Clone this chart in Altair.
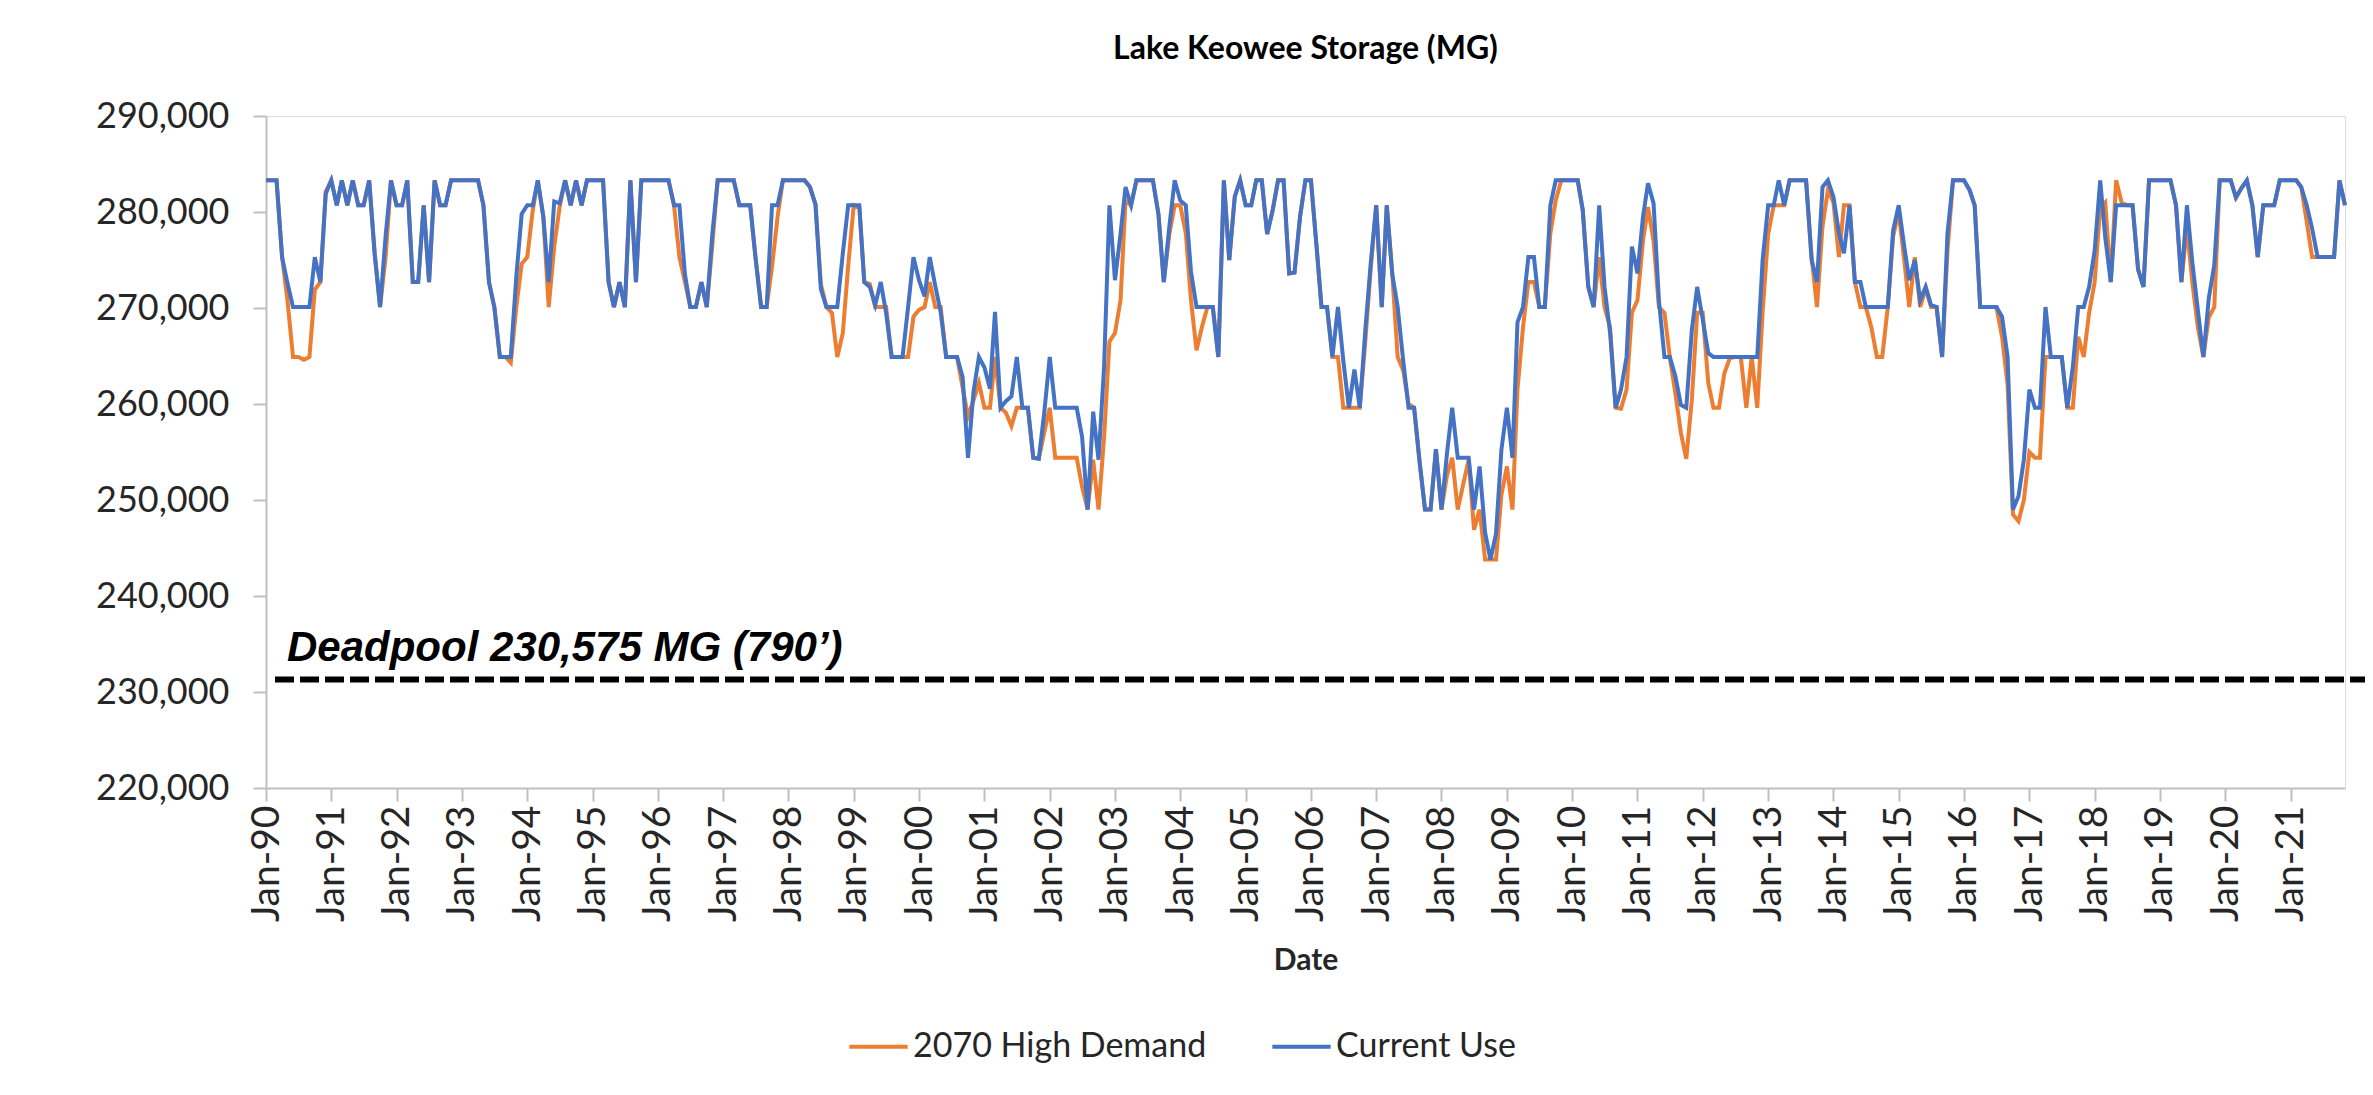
import altair as alt
import pandas as pd

# ---------------- data (MG), monthly Jan-1990 .. Nov-2021 ----------------
current_use = [
    # 1990
    283300, 283300, 283300, 275300, 272600, 270100, 270100, 270100, 270100, 275300, 272700, 281900,
    # 1991
    283300, 280700, 283300, 280700, 283300, 280700, 280700, 283300, 275600, 270100, 277500, 283300,
    # 1992
    280700, 280700, 283300, 272700, 272700, 280700, 272700, 283300, 280700, 280700, 283300, 283300,
    # 1993
    283300, 283300, 283300, 283300, 280700, 272700, 270100, 264900, 264900, 264900, 273300, 279800,
    # 1994
    280700, 280700, 283300, 279500, 272700, 281100, 280900, 283300, 280700, 283300, 280700, 283300,
    # 1995
    283300, 283300, 283300, 272700, 270100, 272700, 270100, 283300, 272700, 283300, 283300, 283300,
    # 1996
    283300, 283300, 283300, 280700, 280700, 273500, 270100, 270100, 272700, 270100, 277700, 283300,
    # 1997
    283300, 283300, 283300, 280700, 280700, 280700, 275200, 270100, 270100, 280700, 280700, 283300,
    # 1998
    283300, 283300, 283300, 283300, 282600, 280800, 272000, 270100, 270100, 270100, 275700, 280700,
    # 1999
    280700, 280700, 272700, 272200, 270300, 272700, 269500, 264900, 264900, 264900, 270100, 275300,
    # 2000
    272900, 271200, 275300, 272300, 269600, 264900, 264900, 264900, 262800, 254400, 261300, 264900,
    # 2001
    263800, 261600, 269600, 259600, 260300, 260800, 264900, 259600, 259600, 254400, 254300, 259000,
    # 2002
    264900, 259600, 259600, 259600, 259600, 259600, 256600, 249000, 259200, 254200, 263800, 280700,
    # 2003
    272900, 277700, 282600, 280700, 283300, 283300, 283300, 283300, 279800, 272700, 278500, 283300,
    # 2004
    281200, 280700, 273800, 270100, 270100, 270100, 270100, 264900, 283300, 275000, 281600, 283300,
    # 2005
    280700, 280700, 283300, 283300, 277700, 280200, 283300, 283300, 273600, 273700, 279500, 283300,
    # 2006
    283300, 276500, 270100, 270100, 264900, 270100, 264500, 259600, 263600, 259600, 267700, 274600,
    # 2007
    280700, 270100, 280700, 273500, 270100, 264500, 259600, 259600, 253900, 249000, 249000, 255300,
    # 2008
    249000, 254900, 259600, 254400, 254400, 254400, 249000, 253500, 246600, 243800, 246500, 255200,
    # 2009
    259600, 254400, 268500, 270100, 275300, 275300, 270100, 270100, 280700, 283300, 283300, 283300,
    # 2010
    283300, 283300, 280200, 272200, 270100, 280700, 272200, 267400, 259600, 261500, 264900, 276400,
    # 2011
    273600, 279500, 283000, 280900, 270800, 264900, 264900, 262900, 259900, 259600, 267700, 272200,
    # 2012
    268800, 265300, 264900, 264900, 264900, 264900, 264900, 264900, 264900, 264900, 264900, 275000,
    # 2013
    280700, 280700, 283300, 280700, 283300, 283300, 283300, 283300, 275000, 272700, 282600, 283300,
    # 2014
    281600, 277800, 275700, 280700, 272700, 272700, 270100, 270100, 270100, 270100, 270100, 278100,
    # 2015
    280700, 276400, 272900, 275000, 270800, 272200, 270300, 270100, 264900, 277800, 283300, 283300,
    # 2016
    283300, 282300, 280700, 270100, 270100, 270100, 270100, 269100, 264900, 249000, 250400, 254200,
    # 2017
    261500, 259600, 259600, 270100, 264900, 264900, 264900, 259600, 263900, 270100, 270100, 272200,
    # 2018
    276000, 283300, 277400, 272700, 280700, 280700, 280700, 280700, 274000, 272200, 283300, 283300,
    # 2019
    283300, 283300, 283300, 280700, 272700, 280700, 274800, 269800, 264900, 271000, 274500, 283300,
    # 2020
    283300, 283300, 281500, 282500, 283300, 280700, 275300, 280700, 280700, 280700, 283300, 283300,
    # 2021
    283300, 283300, 282600, 280700, 278300, 275300, 275300, 275300, 275300, 283300, 280700,
]

high_demand_2070 = [
    # 1990
    283300, 283300, 283300, 275300, 270800, 264900, 264900, 264600, 264900, 271900, 272700, 282100,
    # 1991
    283300, 280700, 283300, 280700, 283300, 280700, 280700, 283300, 275600, 270100, 275300, 283300,
    # 1992
    280700, 280700, 283300, 272700, 272700, 280700, 272700, 283300, 280700, 280700, 283300, 283300,
    # 1993
    283300, 283300, 283300, 283300, 280700, 272700, 270100, 264900, 264900, 264300, 270100, 274600,
    # 1994
    275300, 280200, 283300, 279500, 270100, 276400, 280500, 283300, 280700, 283300, 280700, 283300,
    # 1995
    283300, 283300, 283300, 272700, 270100, 272700, 270100, 283300, 272700, 283300, 283300, 283300,
    # 1996
    283300, 283300, 283300, 280700, 275300, 272700, 270100, 270100, 272700, 270100, 276500, 283300,
    # 1997
    283300, 283300, 283300, 280700, 280700, 280700, 275200, 270100, 270100, 274300, 279500, 283300,
    # 1998
    283300, 283300, 283300, 283300, 282600, 280800, 272500, 270100, 269500, 264900, 267400, 274400,
    # 1999
    280700, 280500, 272700, 272500, 270100, 270100, 270100, 264900, 264900, 264900, 264900, 269100,
    # 2000
    269800, 270100, 272700, 270100, 270100, 264900, 264900, 264900, 261700, 258700, 260400, 262200,
    # 2001
    259600, 259600, 264900, 259600, 259100, 257700, 259600, 259600, 259600, 254400, 254300, 257000,
    # 2002
    259600, 254400, 254400, 254400, 254400, 254400, 251400, 249000, 254200, 249000, 256500, 266500,
    # 2003
    267400, 270800, 281200, 280700, 283300, 283300, 283300, 283300, 279800, 272700, 277700, 280700,
    # 2004
    280700, 277800, 270800, 265600, 268000, 270100, 270100, 264900, 283300, 275000, 281600, 283300,
    # 2005
    280700, 280700, 283300, 283300, 277700, 280200, 283300, 283300, 273600, 273700, 279500, 283300,
    # 2006
    283300, 276500, 270100, 270100, 264900, 264900, 259600, 259600, 259600, 259600, 266500, 274000,
    # 2007
    280700, 270100, 280700, 273500, 264900, 263500, 260000, 259600, 253900, 249000, 249000, 255300,
    # 2008
    249000, 252600, 254400, 249000, 251600, 254200, 246900, 249000, 243800, 243800, 243800, 250500,
    # 2009
    253500, 249000, 261500, 268000, 272700, 272700, 270100, 270100, 277800, 281200, 283300, 283300,
    # 2010
    283300, 283300, 280200, 272200, 270100, 275300, 270100, 268000, 259600, 259500, 261500, 269500,
    # 2011
    270800, 277000, 280500, 277000, 270100, 269500, 264900, 261100, 257000, 254300, 260400, 269500,
    # 2012
    269500, 262200, 259600, 259600, 263200, 264800, 264900, 264900, 259600, 264900, 259600, 269600,
    # 2013
    277700, 280700, 280700, 280700, 283300, 283300, 283300, 283300, 275300, 270100, 278500, 282300,
    # 2014
    281000, 275300, 280700, 280700, 272700, 270100, 270100, 268000, 264900, 264900, 270100, 277500,
    # 2015
    280000, 275000, 270100, 275300, 270100, 272000, 270100, 270100, 264900, 276000, 283300, 283300,
    # 2016
    283300, 282300, 280700, 270100, 270100, 270100, 270100, 267000, 262000, 248500, 247800, 250000,
    # 2017
    255000, 254400, 254400, 264900, 264900, 264900, 264900, 259600, 259600, 267000, 264900, 269500,
    # 2018
    272700, 280500, 281000, 272700, 283300, 281000, 280700, 280700, 274000, 272200, 283300, 283300,
    # 2019
    283300, 283300, 283300, 280700, 272700, 278400, 272700, 268000, 264900, 269000, 270100, 283300,
    # 2020
    283300, 283300, 281500, 282500, 283300, 280700, 275300, 280700, 280700, 280700, 283300, 283300,
    # 2021
    283300, 283300, 282600, 279000, 275300, 275300, 275300, 275300, 275300, 283300, 280700,
]

series_names = ["2070 High Demand", "Current Use"]
series_colors = ["#ED7D31", "#4472C4"]
tick_years = list(range(1990, 2022))
y_ticks = [220000, 230000, 240000, 250000, 260000, 270000, 280000, 290000]
deadpool_value = [231300]
deadpool_label = "Deadpool 230,575 MG (790\u2019)"
chart_title = "Lake Keowee Storage (MG)"

# ---------------- tables ----------------
dates = [f"{1990 + i // 12}/{i % 12 + 1:02d}/01" for i in range(len(current_use))]
df_high = pd.DataFrame({"date": dates, "value": high_demand_2070, "series": series_names[0]})
df_cur = pd.DataFrame({"date": dates, "value": current_use, "series": series_names[1]})
df_dead = pd.DataFrame({"y": deadpool_value})

W, H = 2079, 672
FONT = "Lato"

x_enc = alt.X(
    "date:T",
    scale=alt.Scale(domain=[alt.DateTime(year=1990, month=1, date=1),
                            alt.DateTime(year=2021, month=11, date=1)]),
    axis=alt.Axis(
        values=[alt.DateTime(year=y, month=1, date=1) for y in tick_years],
        format="%b-%y",
        labelAngle=270,
        labelFontSize=39,
        labelFont=FONT,
        labelColor="#262626",
        labelPadding=4,
        tickSize=13,
        tickWidth=2,
        tickColor="#bfbfbf",
        domainColor="#bfbfbf",
        domainWidth=2,
        grid=False,
        title="Date",
        titleFont=FONT,
        titleFontSize=30,
        titleFontWeight="bold",
        titleColor="#262626",
        titlePadding=24,
        labelOverlap=False,
    ),
)
y_enc = alt.Y(
    "value:Q",
    scale=alt.Scale(domain=[220000, 290000], nice=False, zero=False),
    axis=alt.Axis(
        values=y_ticks,
        format=",d",
        labelFontSize=36,
        labelFont=FONT,
        labelColor="#262626",
        labelPadding=24,
        tickSize=13,
        tickWidth=2,
        tickColor="#bfbfbf",
        domainColor="#bfbfbf",
        domainWidth=2,
        grid=False,
        title=None,
    ),
)
color_enc = alt.Color(
    "series:N",
    scale=alt.Scale(domain=series_names, range=series_colors),
    legend=alt.Legend(
        title=None,
        orient="none",
        legendX=581,
        legendY=899,
        direction="horizontal",
        symbolType="stroke",
        symbolSize=3400,
        symbolStrokeWidth=4,
        labelFont=FONT,
        labelFontSize=34,
        labelColor="#262626",
        labelOffset=3,
        labelLimit=800,
        columnPadding=57,
    ),
)

line_high = alt.Chart(df_high).mark_line(strokeWidth=4).encode(x=x_enc, y=y_enc, color=color_enc)
line_cur = alt.Chart(df_cur).mark_line(strokeWidth=4).encode(x=x_enc, y=y_enc, color=color_enc)

rule = alt.Chart(df_dead).mark_rule(color="black", strokeWidth=6, strokeDash=[19, 6]).encode(
    y=alt.Y("y:Q"), x=alt.value(9), x2=alt.value(W + 20)
)
label = alt.Chart(df_dead).mark_text(
    align="left", baseline="alphabetic", font="Liberation Sans", fontSize=42,
    fontWeight="bold", fontStyle="italic", color="black"
).encode(x=alt.value(21), y=alt.value(545), text=alt.value(deadpool_label))

chart = alt.layer(line_high, line_cur, rule, label).properties(
    width=W,
    height=H,
    title=alt.TitleParams(chart_title, font=FONT, fontSize=32, fontWeight="bold",
                          color="black", anchor="middle", offset=32),
    padding={"left": 258, "top": 108, "right": 20, "bottom": 290},
    autosize=alt.AutoSizeParams(type="none"),
).configure_view(stroke=None).configure(background="white")

chart.save("out.html", embed_options={"renderer": "svg", "actions": False})
